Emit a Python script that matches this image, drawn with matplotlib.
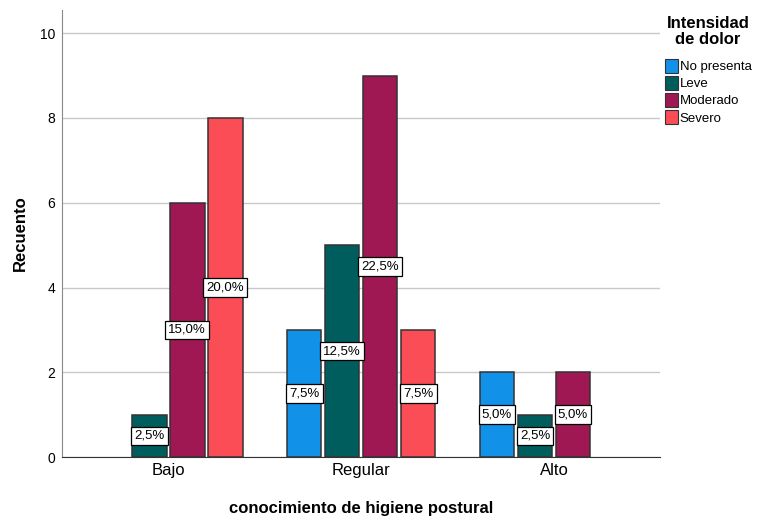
import matplotlib
matplotlib.use("Agg")
import matplotlib.pyplot as plt
import numpy as np

plt.rcParams['font.family'] = ['Liberation Sans', 'DejaVu Sans']

# datos
categorias = ['Bajo', 'Regular', 'Alto']
series = ['No presenta', 'Leve', 'Moderado', 'Severo']
no_presenta = [0, 3, 2]
leve = [1, 5, 1]
moderado = [6, 9, 2]
severo = [8, 3, 0]
etiquetas = {
    'No presenta': ['', '7,5%', '5,0%'],
    'Leve': ['2,5%', '12,5%', '2,5%'],
    'Moderado': ['15,0%', '22,5%', '5,0%'],
    'Severo': ['20,0%', '7,5%', ''],
}
colores = ['#1192e8', '#005d5d', '#9f1853', '#fa4d56']

valores = [no_presenta, leve, moderado, severo]

W, H = 757, 516
fig = plt.figure(figsize=(W / 100, H / 100), dpi=100)
ax = fig.add_axes([0.082, 0.114, 0.790, 0.867])

x = np.arange(len(categorias))
ancho = 0.18
paso = 0.197
for i, (nombre, vals, col) in enumerate(zip(series, valores, colores)):
    pos = x + (i - 1.5) * paso
    for xp, v, lab in zip(pos, vals, etiquetas[nombre]):
        if v == 0:
            continue
        ax.bar(xp, v, width=ancho, color=col, edgecolor='#333333', linewidth=1.1, zorder=3)
        ax.text(xp, v / 2, lab, ha='center', va='center', fontsize=9.5, zorder=4,
                bbox=dict(boxstyle='square,pad=0.25', facecolor='white', edgecolor='black', linewidth=0.9))

ax.set_xlim(-0.55, 2.55)
ax.set_ylim(0, 10.55)
ax.set_yticks([0, 2, 4, 6, 8, 10])
ax.set_xticks(x)
ax.set_xticklabels(categorias, fontsize=12)
ax.tick_params(axis='y', labelsize=10, length=0, pad=5)
ax.tick_params(axis='x', length=0, pad=4)
ax.grid(axis='y', color='#c8c8c8', linewidth=1, zorder=0)
for s in ['top', 'right']:
    ax.spines[s].set_visible(False)
ax.spines['left'].set_color('#888888')
ax.spines['bottom'].set_color('#333333')

ax.set_ylabel('Recuento', fontsize=12, fontweight='bold')
ax.yaxis.set_label_coords(-0.058, 0.5)
ax.set_xlabel('conocimiento de higiene postural', fontsize=12, fontweight='bold', labelpad=17)

# leyenda
fig.text(708 / W, 1 - 16 / H, 'Intensidad\nde dolor', ha='center', va='top',
         fontsize=12, fontweight='bold', linespacing=1.05)
handles = [plt.Rectangle((0, 0), 1, 1, facecolor=c, edgecolor='#333333', linewidth=0.8) for c in colores]
leg = fig.legend(handles, series, loc='upper left', bbox_to_anchor=(665 / W, 1 - 59 / H),
                 frameon=False, fontsize=9.5,
                 handlelength=1.0, handleheight=1.2, handletextpad=0.1, labelspacing=0.22,
                 borderaxespad=0, borderpad=0)

fig.savefig('out.png', dpi=100)
